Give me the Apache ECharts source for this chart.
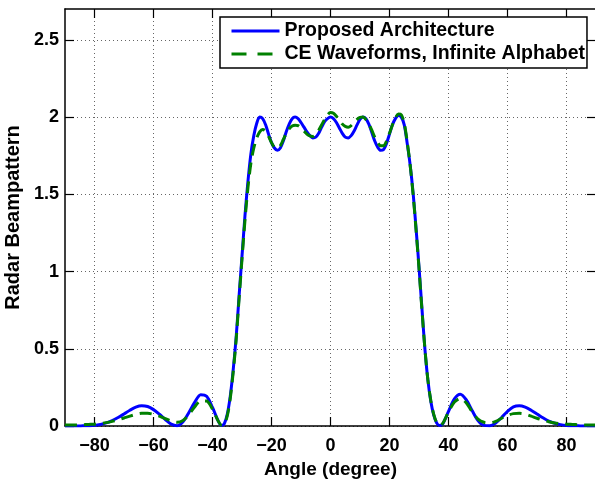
<!DOCTYPE html>
<html>
<head>
<meta charset="utf-8">
<script src="https://cdn.jsdelivr.net/npm/echarts@6/dist/echarts.min.js"></script>
<style>
html,body{margin:0;padding:0;background:#fff;}
#chart{width:595px;height:481px;}
</style>
</head>
<body>
<div id="chart"></div>
<script>
// ---- data ----
const angles = [-90,-88,-86,-84,-82,-80,-78,-76,-74,-72,-70,-68,-66,-64,-62,-60,-58,-56,-54,-52,-50,-48,-46,-44,-42,-40,-38,
  -37,-36,-35,-34,-33,-32,-31,-30,-29,-28,-27,-26,-25,-24,-23,-22,-21,-20,-19,-18,-17,-16,-15,-14,-13,-12,-11,-10,
  -9,-8,-7,-6,-5,-4,-3,-2,-1,0,1,2,3,4,5,6,7,8,9,10,11,12,13,14,15,16,17,18,19,20,21,22,23,24,25,26,27,28,29,30,
  31,32,33,34,35,36,37,
  38,40,42,44,46,48,50,52,54,56,58,60,62,64,66,68,70,72,74,76,78,80,82,84,86,88,90];

const proposed = [0.000,0.000,0.000,0.001,0.002,0.004,0.010,0.020,0.035,0.055,0.078,0.102,0.122,0.131,0.126,0.106,0.076,0.042,0.012,0.002,0.028,0.088,0.155,0.203,0.192,0.120,0.030,
  0.004,0.015,0.075,0.19,0.36,0.57,0.84,1.10,1.36,1.58,1.76,1.88,1.96,2.00,1.99,1.95,1.89,1.835,1.80,1.785,1.80,1.845,1.905,1.955,1.99,2.00,1.99,1.965,
  1.935,1.905,1.88,1.865,1.87,1.895,1.935,1.97,1.99,2.00,1.99,1.965,1.93,1.895,1.87,1.865,1.88,1.91,1.95,1.985,2.00,1.99,1.955,1.90,1.845,1.805,1.785,1.79,1.83,1.89,1.95,1.99,2.01,2.00,1.95,1.83,1.69,1.51,1.28,1.03,
  0.76,0.50,0.30,0.16,0.07,0.02,0.003,
  0.012,0.095,0.175,0.205,0.170,0.100,0.035,0.004,0.002,0.020,0.055,0.095,0.124,0.131,0.122,0.102,0.078,0.053,0.032,0.018,0.009,0.004,0.002,0.001,0.000,0.000,0.000];

const ceInfinite = [0.006,0.006,0.007,0.008,0.010,0.012,0.016,0.022,0.030,0.040,0.052,0.064,0.075,0.082,0.082,0.076,0.064,0.048,0.032,0.024,0.036,0.075,0.125,0.163,0.162,0.108,0.030,
  0.006,0.012,0.065,0.175,0.345,0.555,0.82,1.08,1.33,1.54,1.70,1.80,1.865,1.905,1.92,1.91,1.875,1.835,1.805,1.80,1.815,1.855,1.895,1.925,1.943,1.948,1.945,1.93,
  1.91,1.89,1.878,1.875,1.888,1.915,1.95,1.985,2.015,2.03,2.025,2.005,1.98,1.955,1.94,1.935,1.945,1.965,1.985,1.998,2.00,1.985,1.955,1.915,1.87,1.835,1.815,1.815,1.845,1.895,1.95,1.995,2.02,2.015,1.96,1.84,1.69,1.50,1.27,1.02,
  0.75,0.50,0.30,0.165,0.075,0.022,0.006,
  0.016,0.090,0.155,0.178,0.150,0.092,0.045,0.024,0.020,0.030,0.050,0.068,0.080,0.082,0.077,0.064,0.050,0.038,0.028,0.020,0.015,0.012,0.010,0.008,0.007,0.006,0.006];

const xTicks = [-80,-60,-40,-20,0,20,40,60,80];
const yTicks = [0,0.5,1,1.5,2,2.5];
const seriesNames = ['Proposed Architecture','CE Waveforms, Infinite Alphabet'];
const xTitle = 'Angle (degree)';
const yTitle = 'Radar Beampattern';

// ---- chart ----
const FONT = 'Liberation Sans';
const chart = echarts.init(document.getElementById('chart'), null, {renderer:'canvas'});
const pair = (xs, ys) => xs.map((x, i) => [x, ys[i]]);
const fmtNum = v => String(v).replace('-', '\u2212');

const baseAxis = {
  axisLine: {show: true, onZero: false, lineStyle: {color: '#000', width: 1.5}},
  axisTick: {show: true, inside: true, length: 9, lineStyle: {color: '#000', width: 1.2}},
};

chart.setOption({
  animation: false,
  backgroundColor: '#fff',
  textStyle: {fontFamily: FONT},
  grid: {left: 65, top: 9, width: 531, height: 417, outerBoundsMode: 'none', containLabel: false},
  legend: {
    left: 220, top: 17, orient: 'vertical',
    padding: [4, 2, 4, 10], itemGap: 3, itemWidth: 48, itemHeight: 14,
    backgroundColor: '#fff', borderColor: '#000', borderWidth: 1.5,
    itemStyle: {color: 'rgba(0,0,0,0)', borderWidth: 0, opacity: 0},
    textStyle: {fontFamily: FONT, fontSize: 19.5, fontWeight: 'bold', color: '#000'},
    data: [
      {name: seriesNames[0], lineStyle: {color: '#0000ff', width: 3, type: 'solid'}},
      {name: seriesNames[1], lineStyle: {color: '#008000', width: 3, type: [15, 11]}}
    ]
  },
  xAxis: [
    Object.assign({}, baseAxis, {
      type: 'value', position: 'bottom', min: -90, max: 90,
      name: xTitle, nameLocation: 'middle', nameGap: 33,
      nameTextStyle: {fontFamily: FONT, fontSize: 19, fontWeight: 'bold', color: '#000'},
      axisTick: Object.assign({}, baseAxis.axisTick, {customValues: xTicks}),
      axisLabel: {customValues: xTicks, margin: 11, fontFamily: FONT, fontSize: 18, fontWeight: 'bold', color: '#000', formatter: fmtNum},
      splitLine: {show: true, lineStyle: {color: '#666', width: 1, type: [1, 3]}}
    }),
    Object.assign({}, baseAxis, {
      type: 'value', position: 'top', min: -90, max: 90,
      axisTick: Object.assign({}, baseAxis.axisTick, {customValues: xTicks}),
      axisLabel: {show: false}, splitLine: {show: false}
    })
  ],
  yAxis: [
    Object.assign({}, baseAxis, {
      type: 'value', position: 'left', min: 0, max: 2.7,
      name: yTitle, nameLocation: 'middle', nameGap: 33, nameRotate: 90,
      nameTextStyle: {fontFamily: FONT, fontSize: 20, fontWeight: 'bold', color: '#000'},
      axisTick: Object.assign({}, baseAxis.axisTick, {customValues: yTicks}),
      axisLabel: {customValues: yTicks, margin: 6, fontFamily: FONT, fontSize: 18, fontWeight: 'bold', color: '#000'},
      splitLine: {show: true, lineStyle: {color: '#666', width: 1, type: [1, 3]}}
    }),
    Object.assign({}, baseAxis, {
      type: 'value', position: 'right', min: 0, max: 2.7,
      axisTick: Object.assign({}, baseAxis.axisTick, {customValues: yTicks}),
      axisLabel: {show: false}, splitLine: {show: false}
    })
  ],
  series: [
    {
      name: seriesNames[0], type: 'line', data: pair(angles, proposed),
      smooth: 0.3, symbol: 'none', showSymbol: false,
      lineStyle: {color: '#0000ff', width: 3}, itemStyle: {color: '#0000ff'}, z: 3
    },
    {
      name: seriesNames[1], type: 'line', data: pair(angles, ceInfinite),
      smooth: 0.3, symbol: 'none', showSymbol: false,
      lineStyle: {color: '#008000', width: 3, type: [12, 7]}, itemStyle: {color: '#008000'}, z: 4
    }
  ]
});
</script>
</body>
</html>
